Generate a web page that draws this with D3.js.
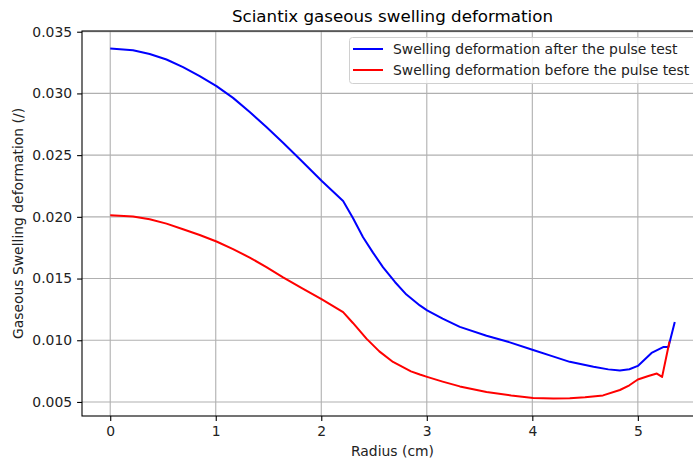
<!DOCTYPE html>
<html>
<head>
<meta charset="utf-8">
<script src="https://cdn.jsdelivr.net/npm/d3@7"></script>
<style>
  html, body { margin: 0; padding: 0; background: #fff; overflow: hidden; }
  svg { display: block; font-family: "DejaVu Sans", sans-serif; }
</style>
</head>
<body>
<svg id="chart" width="693" height="463"></svg>
<script>
const radiusAfter = [0, 0.216, 0.374, 0.533, 0.69, 0.848, 1.007, 1.164, 1.322, 1.48, 1.638, 1.8, 2.005, 2.207, 2.30, 2.396, 2.49, 2.586, 2.70, 2.807, 2.934, 3.003, 3.15, 3.313, 3.566, 3.787, 4.008, 4.18, 4.355, 4.58, 4.72, 4.83, 4.92, 5.0, 5.06, 5.13, 5.24, 5.29, 5.35];
const swellingAfter = [0.03364, 0.03350, 0.03320, 0.03275, 0.03213, 0.03140, 0.03059, 0.02964, 0.02850, 0.02727, 0.02600, 0.02465, 0.02291, 0.02128, 0.01990, 0.01834, 0.01710, 0.01591, 0.01470, 0.01370, 0.01282, 0.01242, 0.01175, 0.01108, 0.01037, 0.00983, 0.00921, 0.00873, 0.00825, 0.00785, 0.00764, 0.00755, 0.00765, 0.00792, 0.00840, 0.00897, 0.00945, 0.00945, 0.01147];
const radiusBefore = [0, 0.216, 0.374, 0.533, 0.69, 0.848, 1.007, 1.164, 1.322, 1.48, 1.638, 1.82, 2.002, 2.207, 2.30, 2.428, 2.55, 2.68, 2.85, 2.934, 3.003, 3.15, 3.313, 3.566, 3.8, 4.008, 4.2, 4.355, 4.5, 4.67, 4.83, 4.92, 5.0, 5.1, 5.18, 5.23, 5.30];
const swellingBefore = [0.02013, 0.02002, 0.01981, 0.01945, 0.01900, 0.01853, 0.01800, 0.01738, 0.01670, 0.01593, 0.01510, 0.01420, 0.01333, 0.01228, 0.01140, 0.01013, 0.00910, 0.00824, 0.00748, 0.00722, 0.00703, 0.00665, 0.00626, 0.00580, 0.00553, 0.00533, 0.00528, 0.00530, 0.00538, 0.00553, 0.00597, 0.00635, 0.00682, 0.00710, 0.00730, 0.00703, 0.00990];
const xTicks = [0, 1, 2, 3, 4, 5];
const yTicks = [0.005, 0.010, 0.015, 0.020, 0.025, 0.030, 0.035];
const seriesNames = ["Swelling deformation after the pulse test", "Swelling deformation before the pulse test"];
const seriesColors = ["#0000ff", "#ff0000"];

(function () {
const svg = d3.select("#chart");
const pl = 82, pr = 703, pt = 31, pb = 416;
const fs = 13.9;

const allX = radiusAfter.concat(radiusBefore);
const allY = swellingAfter.concat(swellingBefore);
const [x0, x1] = d3.extent(allX), [y0, y1] = d3.extent(allY);
const mx = (x1 - x0) * 0.05, my = (y1 - y0) * 0.05;
const x = d3.scaleLinear().domain([x0 - mx, x1 + mx]).range([pl, pr]);
const y = d3.scaleLinear().domain([y0 - my, y1 + my]).range([pb, pt]);

// grid
const g = svg.append("g");
g.selectAll(".vg").data(xTicks).join("line")
  .attr("x1", d => x(d)).attr("x2", d => x(d)).attr("y1", pt).attr("y2", pb)
  .attr("stroke", "#b0b0b0").attr("stroke-width", 1.1);
g.selectAll(".hg").data(yTicks).join("line")
  .attr("x1", pl).attr("x2", pr).attr("y1", d => y(d)).attr("y2", d => y(d))
  .attr("stroke", "#b0b0b0").attr("stroke-width", 1.1);

// lines
const lineGen = d3.line().x(d => x(d[0])).y(d => y(d[1]));
const seriesData = [
  d3.zip(radiusAfter, swellingAfter),
  d3.zip(radiusBefore, swellingBefore)
];
seriesData.forEach((s, i) => {
  svg.append("path").datum(s).attr("d", lineGen)
    .attr("fill", "none").attr("stroke", seriesColors[i]).attr("stroke-width", 2)
    .attr("stroke-linejoin", "round").attr("stroke-linecap", "butt");
});

// axes
const xAxis = d3.axisBottom(x).tickValues(xTicks).tickFormat(d3.format("d")).tickSizeOuter(0).tickSize(4.9).tickPadding(5.5);
const yAxis = d3.axisLeft(y).tickValues(yTicks).tickFormat(d3.format(".3f")).tickSizeOuter(0).tickSize(4.9).tickPadding(5);
const gx = svg.append("g").attr("transform", `translate(0,${pb})`).call(xAxis);
const gy = svg.append("g").attr("transform", `translate(${pl},0)`).call(yAxis);
[gx, gy].forEach(a => {
  a.selectAll("text").attr("font-size", fs).attr("font-family", "DejaVu Sans").attr("fill", "#222");
  a.selectAll("line").attr("stroke", "#000").attr("stroke-width", 1.1);
  a.select(".domain").remove();
});
// spines
svg.append("rect").attr("x", pl).attr("y", pt).attr("width", pr - pl).attr("height", pb - pt)
  .attr("fill", "none").attr("stroke", "#000").attr("stroke-width", 1.1);

// title & labels
svg.append("text").attr("x", (pl + pr) / 2).attr("y", 22).attr("text-anchor", "middle")
  .attr("font-size", 16.7).attr("fill", "#000").text("Sciantix gaseous swelling deformation");
svg.append("text").attr("x", (pl + pr) / 2).attr("y", 456).attr("text-anchor", "middle")
  .attr("font-size", fs).attr("fill", "#222").text("Radius (cm)");
svg.append("text").attr("transform", `translate(23,${(pt + pb) / 2}) rotate(-90)`).attr("text-anchor", "middle")
  .attr("font-size", fs).attr("fill", "#222").text("Gaseous Swelling deformation (/)");

// legend
const lg = svg.append("g").attr("transform", "translate(349,37)");
lg.append("rect").attr("x", 0.5).attr("y", 0.5).attr("width", 380).attr("height", 46).attr("rx", 3)
  .attr("fill", "#fff").attr("fill-opacity", 0.8).attr("stroke", "#d0d0d0").attr("stroke-width", 1);
seriesNames.forEach((n, i) => {
  const yy = 12 + i * 21;
  lg.append("line").attr("x1", 4).attr("x2", 34).attr("y1", yy).attr("y2", yy)
    .attr("stroke", seriesColors[i]).attr("stroke-width", 2);
  lg.append("text").attr("x", 44).attr("y", yy + 5).attr("font-size", fs).attr("fill", "#222").text(n);
});
})();
</script>
</body>
</html>
